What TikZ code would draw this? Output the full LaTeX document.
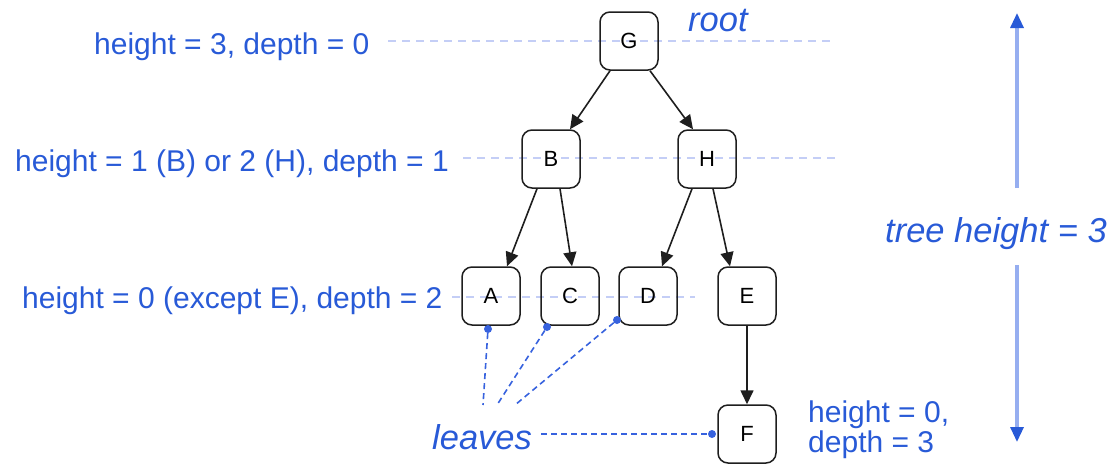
\documentclass[tikz,border=0pt]{standalone}
\usepackage{fontspec}
\setmainfont{Liberation Sans}
\usetikzlibrary{arrows.meta}
\definecolor{lblblue}{RGB}{40,90,215}
\definecolor{guideblue}{RGB}{196,206,246}
\definecolor{leafblue}{RGB}{55,98,222}
\definecolor{spanblue}{RGB}{150,174,240}
\definecolor{edgegray}{RGB}{30,30,30}
\begin{document}
\begin{tikzpicture}[x=1pt,y=-1pt,
  treenode/.style={draw=edgegray, line width=1.5pt, rounded corners=10pt,
    minimum width=58pt, minimum height=58pt, inner sep=0pt,
    font=\fontsize{22}{22}\selectfont},
  link/.style={draw=edgegray, line width=1.6pt, -{Triangle[length=14pt,width=13pt]}},
  levelline/.style={guideblue, line width=1.2pt, dash pattern=on 8pt off 6pt},
  leafline/.style={leafblue, line width=1.6pt, dash pattern=on 6pt off 4pt},
  lbl/.style={text=lblblue, inner sep=0pt, anchor=base west,
    font=\fontsize{30}{30}\selectfont},
  ilbl/.style={text=lblblue, inner sep=0pt, anchor=base west,
    font=\fontsize{34.5}{34.5}\selectfont\itshape},
  dot/.style={circle, fill=leafblue, inner sep=0pt, minimum size=8pt},
  spanarrow/.style={spanblue, line width=3.2pt,
    -{Triangle[length=15pt,width=13pt,color=lblblue]}}
]
\useasboundingbox (0,0) rectangle (1113,464);

% level guide lines
\coordinate (lv0a) at (388,41);  \coordinate (lv0b) at (835,41);
\coordinate (lv1a) at (463,158); \coordinate (lv1b) at (835,158);
\coordinate (lv2a) at (452,297); \coordinate (lv2b) at (695,297);
\draw[levelline] (lv0a) -- (lv0b);
\draw[levelline] (lv1a) -- (lv1b);
\draw[levelline] (lv2a) -- (lv2b);

% level labels
\node[lbl] (l0) at (94,54) {height = 3, depth = 0};
\node[lbl] (l1) at (15,171) {height = 1 (B) or 2 (H), depth = 1};
\node[lbl] (l2) at (22,308) {height = 0 (except E), depth = 2};
\node[ilbl] (rootlbl) at (688,31) {root};

% tree nodes
\node[treenode] (G) at (629,41) {G};
\node[treenode] (B) at (551,159) {B};
\node[treenode] (H) at (707,159) {H};
\node[treenode] (A) at (491,296) {A};
\node[treenode] (C) at (570,296) {C};
\node[treenode] (D) at (648,296) {D};
\node[treenode] (E) at (747,296) {E};
\node[treenode] (F) at (747,434) {F};

% parent-child edges
\draw[link] ([xshift=-19pt]G.south) -- ([xshift=19pt]B.north);
\draw[link] ([xshift=21pt]G.south) -- ([xshift=-14pt]H.north);
\draw[link] ([xshift=-14pt]B.south) -- ([xshift=16pt]A.north);
\draw[link] ([xshift=9pt]B.south) -- ([xshift=2pt]C.north);
\draw[link] ([xshift=-15pt]H.south) -- ([xshift=14pt]D.north);
\draw[link] ([xshift=6pt]H.south) -- ([xshift=-17pt]E.north);
\draw[link] (E.south) -- (F.north);

% leaves callouts
\node[ilbl] (leaves) at (432,449) {leaves};
\coordinate (la) at (483,405);
\coordinate (lc) at (497,405);
\coordinate (ld) at (515,405);
\coordinate (lf) at (541,434);
\node[dot] (da) at (488,329) {};
\node[dot] (dc) at (547,327) {};
\node[dot] (dd) at (617,320) {};
\node[dot] (df) at (712,434) {};
\draw[leafline] (da) -- (la);
\draw[leafline] (dc) -- (lc);
\draw[leafline] (dd) -- (ld);
\draw[leafline] (lf) -- (df);

% F annotation
\node[lbl] (fh) at (808,422) {height = 0,};
\node[lbl] (fd) at (808,452) {depth = 3};

% overall tree height
\node[ilbl] (th) at (885,242) {tree height = 3};
\coordinate (spantop) at (1017,13);
\coordinate (spantopstart) at (1017,188);
\coordinate (spanbot) at (1017,442);
\coordinate (spanbotstart) at (1017,265);
\draw[spanarrow] (spantopstart) -- (spantop);
\draw[spanarrow] (spanbotstart) -- (spanbot);
\end{tikzpicture}
\end{document}
